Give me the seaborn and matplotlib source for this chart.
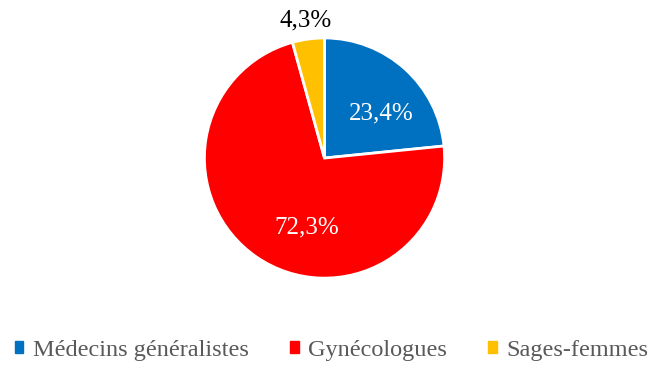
import numpy as np
import matplotlib
matplotlib.use("Agg")
import matplotlib.pyplot as plt
import seaborn as sns

categories = ["Médecins généralistes", "Gynécologues", "Sages-femmes"]
shares = [23.4, 72.3, 4.3]
pct_labels = ["23,4%", "72,3%", "4,3%"]
colors = ["#0070C0", "#FF0000", "#FFC000"]

sns.set_theme(style="white")
plt.rcParams["font.family"] = ["Liberation Serif", "DejaVu Serif"]

fig = plt.figure(figsize=(6.49, 3.65), dpi=100)
h = 0.658
ax = fig.add_axes([0.5 - h * 365 / 649 / 2, 0.567 - h / 2, h * 365 / 649, h])

wedges, _ = ax.pie(shares, colors=colors, startangle=90, counterclock=False,
                   wedgeprops=dict(edgecolor="white", linewidth=2))
ax.set_xlim(-1, 1)
ax.set_ylim(-1, 1)
ax.set_aspect("equal")

# label placement: (radial distance, angle offset in degrees from wedge middle)
placement = [(0.60, -10), (0.60, 20), (1.16, 0)]
label_colors = ["white", "white", "black"]
for w, txt, (dist, doff), col in zip(wedges, pct_labels, placement, label_colors):
    mid = np.deg2rad((w.theta1 + w.theta2) / 2 + doff)
    ax.text(dist * np.cos(mid), dist * np.sin(mid), txt, ha="center", va="center",
            fontsize=18, color=col, clip_on=False)

handles = [plt.Rectangle((0, 0), 1, 1, color=c) for c in colors]
fig.legend(handles, categories, loc="center", bbox_to_anchor=(0.511, 0.04),
           ncol=3, frameon=False, fontsize=17.5, handlelength=0.35, handleheight=0.35,
           handletextpad=0.4, columnspacing=1.7, labelcolor="#595959")

fig.savefig("out.png", dpi=100)
